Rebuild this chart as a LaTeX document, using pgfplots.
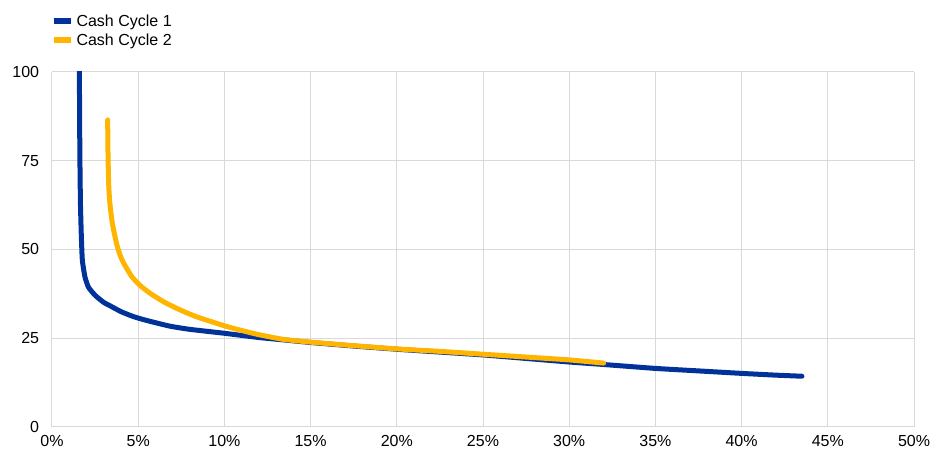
\documentclass[border=0pt]{standalone}
\usepackage{pgfplots}
\pgfplotsset{compat=1.18}
\usepackage{fontspec}
\setmainfont{Liberation Sans}
\definecolor{ecbblue}{HTML}{003299}
\definecolor{ecbyellow}{HTML}{FFB400}
\definecolor{gridgray}{HTML}{D9D9D9}
\begin{document}
\begin{tikzpicture}
\begin{axis}[
  name=ax,
  scale only axis,
  width=646.5pt, height=266.25pt,
  xmin=0, xmax=50, ymin=0, ymax=100,
  xtick={0,5,...,50},
  xticklabels={0\%,5\%,10\%,15\%,20\%,25\%,30\%,35\%,40\%,45\%,50\%},
  ytick={0,25,50,75,100},
  major tick length=0pt,
  grid=major,
  major grid style={draw=gridgray, line width=0.75pt},
  axis line style={draw=gridgray, line width=0.75pt},
  axis x line*=bottom, axis y line*=left,
  tick label style={font=\fontsize{12}{14}\selectfont, text=black, inner sep=0pt},
  /pgf/number format/assume math mode=true,
  xticklabel style={yshift=-6pt},
  yticklabel style={xshift=-9.5pt},
  clip=true,
  legend style={draw=none, fill=none, at={(axis description cs:-0.002,1.170)}, anchor=north west,
    font=\fontsize{12}{14}\selectfont, inner sep=0pt, row sep=0pt,
    cells={anchor=west}},
  legend image code/.code={\draw[#1, line width=4.5pt, line cap=butt] (0pt,0pt) -- (13pt,0pt);},
  legend cell align=left,
]
\addplot[ecbblue, line width=3.75pt, line cap=round, line join=round, smooth, tension=0.3] coordinates {
(1.58,104) (1.59,100) (1.60,88) (1.62,75) (1.65,63) (1.70,54) (1.76,47) (1.91,42.3) (2.1,39.5)
(2.35,37.9) (2.59,36.7) (3.0,35.1) (3.46,33.9) (4.0,32.5) (4.72,31.1) (5.5,30.0) (6.84,28.4)
(8,27.5) (10,26.4) (12,25.2) (13.5,24.5)
(15,23.8) (17.5,22.8) (20,21.9) (22.5,21.1) (25,20.3) (27.5,19.3) (30,18.3) (32,17.6)
(35,16.5) (37.5,15.8) (40,15.1) (42,14.6) (43.5,14.3)
};
\addlegendentry{Cash Cycle 1}
\addplot[ecbyellow, line width=3.75pt, line cap=round, line join=round, smooth, tension=0.3] coordinates {
(3.23,86.5) (3.24,80) (3.26,74) (3.29,68) (3.34,64) (3.4,61.1) (3.49,57.7) (3.62,54.4) (3.78,51.0)
(3.95,48.4) (4.14,46.3) (4.62,42.4) (5.1,39.9) (5.68,37.7) (6.5,35.2) (7.42,33.0) (8.3,31.2)
(9.16,29.8) (10,28.5) (10.9,27.3) (12,26.0)
(13.4,24.7) (15,23.9) (17.5,22.9) (20,22.0) (22.5,21.3) (25,20.5) (27.5,19.7) (30,18.9) (32,18.0)
};
\addlegendentry{Cash Cycle 2}
\end{axis}
\path[use as bounding box] ([xshift=-39pt,yshift=-21pt]ax.south west) rectangle ([xshift=12.75pt,yshift=54pt]ax.north east);
\end{tikzpicture}
\end{document}
